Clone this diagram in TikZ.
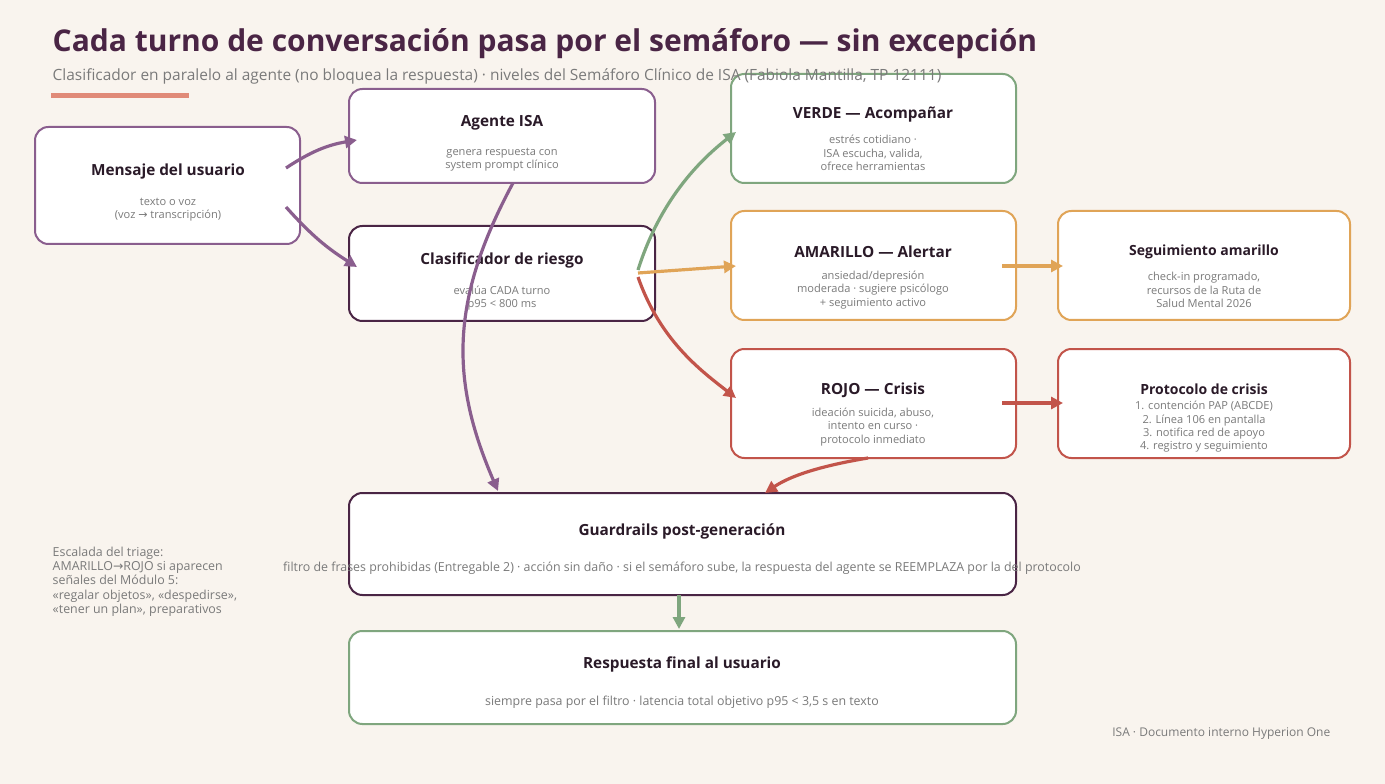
\documentclass[tikz,border=0pt]{standalone}
\usepackage{fontspec}
\setmainfont{Open Sans}
\newfontfamily\dejavu{DejaVu Sans}
\usetikzlibrary{arrows.meta}
\definecolor{bg}{HTML}{F9F4EE}
\definecolor{pur}{HTML}{8A5E8E}
\definecolor{dk}{HTML}{4A2545}
\definecolor{grn}{HTML}{7FA67E}
\definecolor{org}{HTML}{E0A457}
\definecolor{red}{HTML}{C2544A}
\definecolor{gt}{HTML}{7A7A7A}
\definecolor{sal}{HTML}{E08A78}
\definecolor{tt}{HTML}{2A1A28}
\begin{document}
\begin{tikzpicture}[x=0.75pt,y=-0.75pt,
 box/.style={draw=#1,line width=1.5pt,fill=white,rounded corners=10pt},
 ttl/.style={font=\fontsize{11.5}{13}\selectfont\bfseries,text=tt},
 sub/.style={font=\fontsize{8.3}{10}\selectfont,text=gt,align=center},
 arr/.style={draw=#1,line width=2.4pt,-{Triangle[length=9pt,width=9pt,fill=#1]}}]
\fill[bg] (0,0) rectangle (1385,784);
\useasboundingbox (0,0) rectangle (1385,784);
\node[anchor=west,font=\fontsize{22.5}{26}\selectfont\bfseries,text=dk] (title) at (48,44) {Cada turno de conversación pasa por el semáforo — sin excepción};
\fill[sal] (51,93) rectangle (189,98);
% boxes
\draw[box=pur] (35,127) rectangle (300,244);
\node[ttl] (m) at (168,172) {Mensaje del usuario};
\node[sub] (ms) at (168,210) {texto o voz\\(voz {\dejavu →} transcripción)};
\draw[box=pur] (349,89) rectangle (655,183);
\node[ttl] (a) at (502,123) {Agente ISA};
\node[sub] (as) at (502,160) {genera respuesta con\\system prompt clínico};
\draw[box=dk] (349,226) rectangle (655,321);
\node[ttl] (c) at (502,260) {Clasificador de riesgo};
\node[sub] (cs) at (502,298) {evalúa CADA turno\\p95 < 800 ms};
\draw[box=grn] (731,74) rectangle (1016,183);
\node[ttl] (v) at (873,115) {VERDE — Acompañar};
\node[sub] (vs) at (873,153) {estrés cotidiano ·\\ISA escucha, valida,\\ofrece herramientas};
\draw[box=org] (731,211) rectangle (1016,320);
\node[ttl] (am) at (873,252) {AMARILLO — Alertar};
\node[sub] (ams) at (873,290) {ansiedad/depresión\\moderada · sugiere psicólogo\\+ seguimiento activo};
\draw[box=org] (1058,211) rectangle (1350,320);
\node[ttl,font=\fontsize{10.5}{13}\selectfont\bfseries] (sg) at (1204,252) {Seguimiento amarillo};
\node[sub] (sgs) at (1204,290) {check-in programado,\\recursos de la Ruta de\\Salud Mental 2026};
\draw[box=red] (731,349) rectangle (1016,458);
\node[ttl] (r) at (873,390) {ROJO — Crisis};
\node[sub] (rs) at (873,427) {ideación suicida, abuso,\\intento en curso ·\\protocolo inmediato};
\draw[box=red] (1058,349) rectangle (1350,458);
\node[ttl,font=\fontsize{10.5}{13}\selectfont\bfseries] (p) at (1204,389) {Protocolo de crisis};
\node[sub] (ps) at (1204,427) {1. contención PAP (ABCDE)\\2. Línea 106 en pantalla\\3. notifica red de apoyo\\4. registro y seguimiento};
\draw[box=dk] (349,493) rectangle (1016,595);
\node[ttl] (g) at (682,531) {Guardrails post-generación};
\node[sub,font=\fontsize{9.3}{11}\selectfont] (gs) at (682,568) {filtro de frases prohibidas (Entregable 2) · acción sin daño · si el semáforo sube, la respuesta del agente se REEMPLAZA por la del protocolo};
\draw[box=grn] (349,631) rectangle (1016,724);
\node[ttl] (f) at (682,664) {Respuesta final al usuario};
\node[sub,font=\fontsize{9.3}{11}\selectfont] (fs) at (682,702) {siempre pasa por el filtro · latencia total objetivo p95 < 3,5 s en texto};
\node[sub,align=left,anchor=north west,font=\fontsize{9.3}{10.8}\selectfont] (note) at (48,542) {Escalada del triage:\\AMARILLO{\dejavu →}ROJO si aparecen\\señales del Módulo 5:\\«regalar objetos», «despedirse»,\\«tener un plan», preparativos};
\node[sub,anchor=east,font=\fontsize{9}{10}\selectfont] (foot) at (1335,734) {ISA · Documento interno Hyperion One};
\node[anchor=west,font=\fontsize{11.6}{14}\selectfont,text=gt] (subt) at (48,76) {Clasificador en paralelo al agente (no bloquea la respuesta) · niveles del Semáforo Clínico de ISA (Fabiola Mantilla, TP 12111)};
% arrows
\coordinate (m1) at (286,168); \coordinate (m2) at (286,207);
\coordinate (a1) at (357,140); \coordinate (c1) at (357,267);
\draw[arr=pur] (m1) to[bend left=12] (a1);
\draw[arr=pur] (m2) to[bend right=8] (c1);
\coordinate (ab) at (513,183); \coordinate (gt) at (498,491);
\draw[arr=pur] (ab) .. controls (450,300) and (450,380) .. (gt);
\coordinate (cx) at (638,270); \coordinate (cy) at (638,273); \coordinate (cz) at (638,277);
\draw[arr=grn] (cx) .. controls (660,200) and (700,160) .. (736,132);
\draw[arr=org] (cy) -- (736,266);
\draw[arr=red] (cz) .. controls (660,340) and (700,370) .. (736,398);
\draw[arr=org] (1002,266) -- (1063,266);
\draw[arr=red] (1002,403) -- (1063,403);
\draw[arr=red] (868,458) .. controls (820,466) and (790,476) .. (765,493);
\draw[arr=grn] (679,595) -- (679,629);
\end{tikzpicture}
\end{document}
